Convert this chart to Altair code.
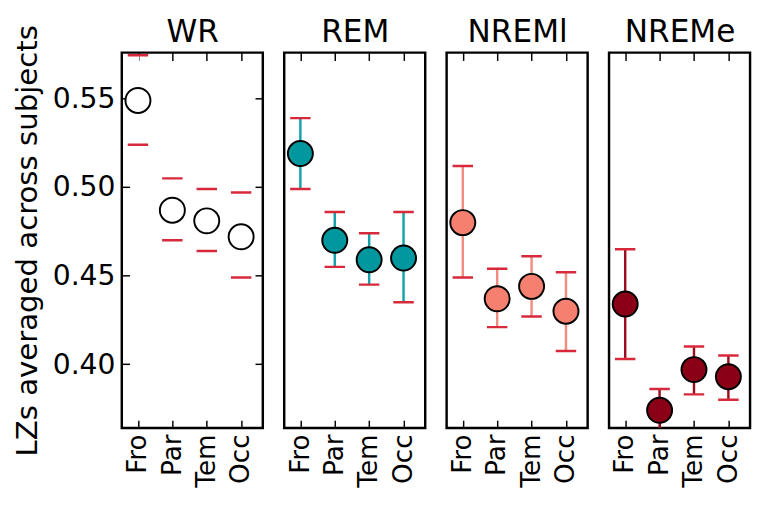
import altair as alt
import pandas as pd

stages = ["WR", "REM", "NREMl", "NREMe"]
regions = ["Fro", "Par", "Tem", "Occ"]

mean_WR = [0.549, 0.487, 0.481, 0.472]
lo_WR = [0.524, 0.470, 0.464, 0.449]
hi_WR = [0.5745, 0.505, 0.499, 0.497]

mean_REM = [0.519, 0.470, 0.459, 0.460]
lo_REM = [0.499, 0.455, 0.445, 0.435]
hi_REM = [0.539, 0.486, 0.474, 0.486]

mean_NREMl = [0.480, 0.437, 0.444, 0.430]
lo_NREMl = [0.449, 0.421, 0.427, 0.4075]
hi_NREMl = [0.512, 0.454, 0.461, 0.452]

mean_NREMe = [0.434, 0.374, 0.397, 0.393]
lo_NREMe = [0.403, 0.361, 0.383, 0.380]
hi_NREMe = [0.465, 0.386, 0.410, 0.405]

fill_colors = ["white", "#00979e", "#f5806f", "#8a0016"]
line_colors = ["white", "#12a0aa", "#f28c80", "#9a0f20"]
cap_color = "#d8283b"

means = [mean_WR, mean_REM, mean_NREMl, mean_NREMe]
los = [lo_WR, lo_REM, lo_NREMl, lo_NREMe]
his = [hi_WR, hi_REM, hi_NREMl, hi_NREMe]

y_domain = [0.364, 0.576]
x_domain = [-0.47, 3.63]
label_expr = "['Fro','Par','Tem','Occ'][datum.value]"

PW, PH = 145, 386


def panel(i):
    df = pd.DataFrame({
        "idx": list(range(len(regions))),
        "region": regions,
        "mean": means[i],
        "lo": los[i],
        "hi": his[i],
    })
    base = alt.Chart(df)
    xs = alt.Scale(domain=x_domain, nice=False, zero=False)
    ys = alt.Scale(domain=y_domain, nice=False, zero=False)

    x_bottom = alt.X("idx:Q", scale=xs, title=None,
                     axis=alt.Axis(orient="bottom", values=[0, 1, 2, 3], labelExpr=label_expr,
                                   labelAngle=-90, labelFontSize=27, labelPadding=6,
                                   tickSize=8, offset=-8, domain=False, grid=False,
                                   tickColor="black", tickWidth=1.5, labelColor="black"))
    x_top = alt.X("idx:Q", scale=xs, title=stages[i],
                  axis=alt.Axis(orient="top", values=[0, 1, 2, 3], labels=False,
                                tickSize=8, offset=-8, domain=False, grid=False,
                                tickColor="black", tickWidth=1.5,
                                titleFontSize=32, titleFontWeight="normal", titlePadding=4,
                                titleColor="black"))
    x_none = alt.X("idx:Q", scale=xs, axis=None)

    if i == 0:
        y_left = alt.Y("lo:Q", scale=ys, title="LZs averaged across subjects",
                       axis=alt.Axis(orient="left", values=[0.40, 0.45, 0.50, 0.55], format=".2f",
                                     labelFontSize=29, labelPadding=7, tickSize=8, offset=-8,
                                     domain=False, grid=False, tickColor="black", tickWidth=1.5,
                                     titleFontSize=30, titleFontWeight="normal", titlePadding=10,
                                     labelColor="black", titleColor="black"))
        y_right = alt.Y("lo:Q", scale=ys,
                        axis=alt.Axis(orient="right", values=[0.40, 0.45, 0.50, 0.55], labels=False,
                                      tickSize=8, offset=-8, domain=False, grid=False,
                                      tickColor="black", tickWidth=1.5, title=None))
    else:
        y_left = alt.Y("lo:Q", scale=ys, axis=None)
        y_right = alt.Y("lo:Q", scale=ys, axis=None)

    rule = base.mark_rule(color=line_colors[i], strokeWidth=2.5, clip=True).encode(
        x=x_bottom, y=y_left, y2="hi:Q")
    cap_lo = base.mark_tick(orient="horizontal", size=21, thickness=2.5, color=cap_color,
                            opacity=1, clip=True).encode(x=x_top, y=y_right)
    cap_hi = base.mark_tick(orient="horizontal", size=21, thickness=2.5, color=cap_color,
                            opacity=1, clip=True).encode(
        x=x_none, y=alt.Y("hi:Q", scale=ys, axis=None))
    pts = base.mark_point(filled=True, fill=fill_colors[i], stroke="black", strokeWidth=2,
                          size=660, opacity=1, shape="circle").encode(
        x=x_none, y=alt.Y("mean:Q", scale=ys, axis=None))

    return alt.layer(rule, cap_lo, cap_hi, pts).resolve_axis(
        x="independent", y="independent").properties(width=PW, height=PH)


chart = alt.hconcat(*[panel(i) for i in range(4)], spacing=18).configure(
    font="DejaVu Sans", padding={"left": 4, "top": 0, "right": 0, "bottom": 0}
).configure_view(stroke="black", strokeWidth=2.5).configure_concat(spacing=18)

chart.save("out.html", embed_options={"renderer": "svg", "actions": False})
